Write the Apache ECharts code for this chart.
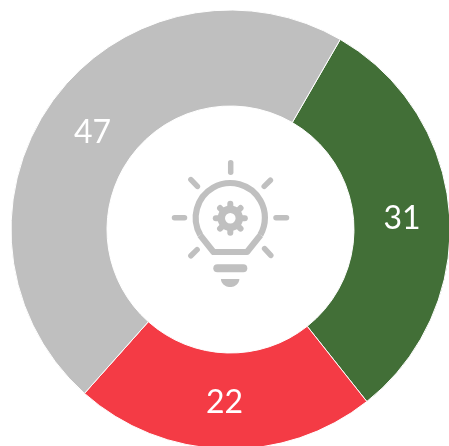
<!DOCTYPE html>
<html>
<head>
<meta charset="utf-8">
<style>html,body{margin:0;padding:0;background:#fff}#c{width:449px;height:446px}</style>
<script src="https://cdn.jsdelivr.net/npm/echarts@6/dist/echarts.min.js"></script>
</head>
<body>
<div id="c"></div>
<script>
const categories = ['A', 'B', 'C'];
const values = [31, 22.25, 46.75];
const colors = ['#426f37', '#f43b45', '#bfbfbf'];
const labelOffsets = [[-2.5,1.5],[-1,-1.5],[3.5,5]];

const iconColor = '#c0c0c0';
const rays = [[230.7,162.7,230.7,172.3],[174.5,217.7,184.5,217.7],[276,217.7,286.5,217.7],
  [190.9,179.6,197.4,186.4],[270.4,180.2,264.2,186.4],[197.1,249.6,190.9,255.8],[264.6,248.6,270.8,255.4],
  [217.3,268.3,243.3,268.3]];
const icon = rays.map(r => ({type:'line', silent:true, shape:{x1:r[0],y1:r[1],x2:r[2],y2:r[3]},
  style:{stroke:iconColor, lineWidth:r[1]===268.3?8:5.5, lineCap:'round'}}));
icon.push({type:'arc', silent:true, shape:{cx:230.3,cy:217.7,r:34.6,startAngle:150.3*Math.PI/180,endAngle:389.7*Math.PI/180,clockwise:true},
  style:{fill:'none', stroke:iconColor, lineWidth:6.2}});
icon.push({type:'polyline', silent:true, shape:{points:[[200,235],[213.5,252],[247,252],[260.6,235]]},
  style:{fill:'none', stroke:iconColor, lineWidth:6.2, lineJoin:'round'}});
const capPts = [];
for (let i=0;i<=24;i++){ const a=i/24*Math.PI; capPts.push([230.15+9.2*Math.cos(a),279+8*Math.sin(a)]); }
icon.push({type:'polygon', silent:true, shape:{points:capPts}, style:{fill:iconColor}});
icon.push({type:'circle', silent:true, shape:{cx:230.3,cy:218.3,r:9}, style:{fill:'none',stroke:iconColor,lineWidth:7.4}});
for (let i=0;i<8;i++){
  const a=i*Math.PI/4;
  icon.push({type:'line', silent:true, shape:{x1:230.3+11*Math.sin(a),y1:218.3-11*Math.cos(a),x2:230.3+14.5*Math.sin(a),y2:218.3-14.5*Math.cos(a)},
    style:{stroke:iconColor,lineWidth:6,lineCap:'round'}});
}

const chart = echarts.init(document.getElementById('c'), null, {renderer:'canvas'});
chart.setOption({
  animation:false,
  backgroundColor:'#fff',
  series:[{
    type:'pie',
    center:[230.5,229.5],
    radius:[123.5,219.5],
    startAngle:60,
    clockwise:true,
    silent:true,
    itemStyle:{borderColor:'#fff',borderWidth:1},
    label:{show:true,position:'inside',formatter:p=>String(Math.round(p.value)),color:'#fff',fontFamily:'Lato',fontSize:32},
    labelLine:{show:false},
    data:categories.map((n,i)=>({name:n,value:values[i],itemStyle:{color:colors[i]},label:{offset:labelOffsets[i]}}))
  }],
  graphic:icon
});
</script>
</body>
</html>
